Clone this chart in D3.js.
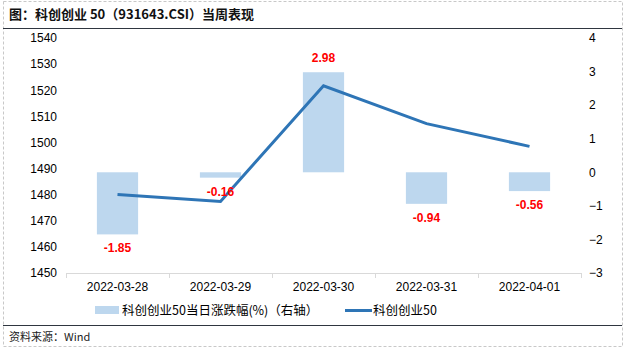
<!DOCTYPE html>
<html>
<head>
<meta charset="utf-8">
<script src="https://cdn.jsdelivr.net/npm/d3@7"></script>
<style>
  body { margin: 0; background: #fff; }
  svg { display: block; font-family: "Liberation Sans", Arial, "Noto Sans CJK SC", sans-serif; }
</style>
</head>
<body>
<div id="chart"></div>
<script>
// data
const dates = ["2022-03-28", "2022-03-29", "2022-03-30", "2022-03-31", "2022-04-01"];
const pctChange = [-1.85, -0.16, 2.98, -0.94, -0.56];
const indexClose = [1480.1, 1477.4, 1521.7, 1507.2, 1498.5];
const leftTicks = [1450, 1460, 1470, 1480, 1490, 1500, 1510, 1520, 1530, 1540];
const rightTicks = [-3, -2, -1, 0, 1, 2, 3, 4];

const W = 630, H = 352;
const plot = { left: 66, right: 581, top: 38, bottom: 273 };

const svg = d3.select("#chart").append("svg")
    .attr("width", W)
    .attr("height", H);

// frame
svg.append("rect")
    .attr("x", 3.5).attr("y", 1.5)
    .attr("width", 619).attr("height", 345)
    .attr("fill", "none")
    .attr("stroke", "#c8c8c8")
    .attr("stroke-dasharray", "3,2");

svg.append("text")
    .attr("x", 9).attr("y", 19)
    .attr("font-size", 13).attr("font-weight", "bold")
    .attr("fill", "#111")
    .attr("font-family", "'Noto Sans CJK SC', sans-serif")
    .text("图：科创创业 50（931643.CSI）当周表现");

svg.append("line")
    .attr("x1", 3).attr("x2", 622).attr("y1", 28.5).attr("y2", 28.5)
    .attr("stroke", "#2f3640").attr("stroke-width", 1.2);

svg.append("line")
    .attr("x1", 3).attr("x2", 622).attr("y1", 325.5).attr("y2", 325.5)
    .attr("stroke", "#2f3640").attr("stroke-width", 1.2);

svg.append("text")
    .attr("x", 9).attr("y", 341)
    .attr("font-size", 11)
    .attr("fill", "#222")
    .attr("font-family", "'Noto Sans CJK SC', sans-serif")
    .text("资料来源：Wind");

// scales
const x = d3.scaleBand().domain(dates).range([plot.left, plot.right]);
const yL = d3.scaleLinear().domain([1450, 1540]).range([plot.bottom, plot.top]);
const yR = d3.scaleLinear().domain([-3, 4]).range([plot.bottom, plot.top]);

// x axis
const xAxis = svg.append("g")
    .attr("transform", `translate(0,${plot.bottom})`)
    .call(d3.axisBottom(x).tickSize(0).tickPadding(9));
xAxis.select(".domain").attr("stroke", "#d9d9d9");
xAxis.selectAll("text").attr("font-size", 12).attr("fill", "#000")
    .attr("font-family", "'Liberation Sans', Arial, sans-serif");
xAxis.selectAll(".sep")
    .data(dates.concat(["end"]))
    .join("line")
    .attr("class", "sep")
    .attr("x1", (d, i) => plot.left + i * x.step() + 0.5)
    .attr("x2", (d, i) => plot.left + i * x.step() + 0.5)
    .attr("y1", 0).attr("y2", 5)
    .attr("stroke", "#d9d9d9");

// left axis
const leftAxis = svg.append("g")
    .attr("transform", `translate(${plot.left},0)`)
    .call(d3.axisLeft(yL).tickValues(leftTicks).tickFormat(d3.format("d")).tickSize(0).tickPadding(9));
leftAxis.select(".domain").remove();
leftAxis.selectAll("text").attr("font-size", 12).attr("fill", "#000")
    .attr("font-family", "'Liberation Sans', Arial, sans-serif");

// right axis
const rightAxis = svg.append("g")
    .attr("transform", `translate(${plot.right},0)`)
    .call(d3.axisRight(yR).tickValues(rightTicks).tickFormat(d3.format("d")).tickSize(0).tickPadding(8));
rightAxis.select(".domain").remove();
rightAxis.selectAll("text").attr("font-size", 12).attr("fill", "#000")
    .attr("font-family", "'Liberation Sans', Arial, sans-serif");

// bars (right axis)
const barW = x.bandwidth() * 0.4;
svg.append("g")
  .selectAll("rect")
  .data(pctChange)
  .join("rect")
    .attr("x", (d, i) => x(dates[i]) + (x.bandwidth() - barW) / 2)
    .attr("y", d => yR(Math.max(0, d)))
    .attr("width", barW)
    .attr("height", d => Math.abs(yR(d) - yR(0)))
    .attr("fill", "#bdd7ee");

// index line (left axis)
const line = d3.line()
    .x((d, i) => x(dates[i]) + x.bandwidth() / 2)
    .y(d => yL(d));
svg.append("path")
    .datum(indexClose)
    .attr("d", line)
    .attr("fill", "none")
    .attr("stroke", "#2e75b6")
    .attr("stroke-width", 3);

// bar labels
svg.append("g")
  .selectAll("text")
  .data(pctChange)
  .join("text")
    .attr("x", (d, i) => x(dates[i]) + x.bandwidth() / 2)
    .attr("y", d => d >= 0 ? yR(d) - 10 : yR(d) + 18)
    .attr("text-anchor", "middle")
    .attr("font-size", 12).attr("font-weight", "bold")
    .attr("fill", "#ff0000")
    .text(d => d.toFixed(2));

// legend
const legend = svg.append("g")
    .attr("font-size", 12.5)
    .attr("font-family", "'Noto Sans CJK SC', sans-serif")
    .attr("fill", "#000");
legend.append("rect")
    .attr("x", 95).attr("y", 306).attr("width", 24).attr("height", 8)
    .attr("fill", "#bdd7ee");
legend.append("text")
    .attr("x", 122).attr("y", 314.5)
    .text("科创创业50当日涨跌幅(%)（右轴）");
legend.append("line")
    .attr("x1", 345).attr("x2", 372).attr("y1", 310.5).attr("y2", 310.5)
    .attr("stroke", "#2e75b6").attr("stroke-width", 3);
legend.append("text")
    .attr("x", 373).attr("y", 314.5)
    .text("科创创业50");
</script>
</body>
</html>
